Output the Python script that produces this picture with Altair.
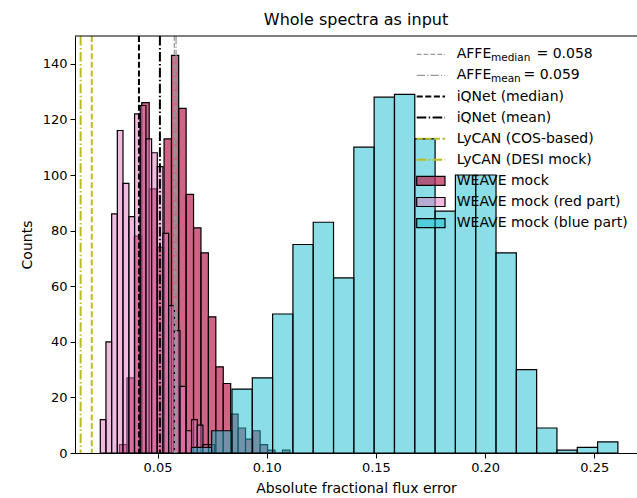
import altair as alt
import pandas as pd

# ---------------- data ----------------
# WEAVE mock (whole spectra) histogram
weave_edges = [0.0326, 0.0360, 0.0394, 0.0428, 0.0462, 0.0496, 0.0530, 0.0564,
               0.0597, 0.0631, 0.0665, 0.0699, 0.0733, 0.0767, 0.0801, 0.0835,
               0.0869, 0.0903, 0.0936, 0.0970, 0.1004, 0.1038, 0.1072, 0.1106]
weave_counts = [3, 27, 78, 126, 95, 74, 113, 143, 124, 93, 81, 72, 49, 31, 25,
                14, 9, 5, 8, 3, 1, 0, 1]

# WEAVE mock (red part) histogram
red_edges = [0.0238, 0.0264, 0.0290, 0.0316, 0.0342, 0.0369, 0.0395, 0.0421,
             0.0447, 0.0473, 0.0499, 0.0525, 0.0551, 0.0577, 0.0603, 0.0630,
             0.0656, 0.0682, 0.0708, 0.0734, 0.0760]
red_counts = [12, 40, 86, 116, 97, 85, 122, 125, 113, 108, 103, 79, 53, 44, 24,
              8, 12, 10, 3, 3]

# WEAVE mock (blue part) histogram
blue_edges = [0.0655, 0.0748, 0.0841, 0.0934, 0.1027, 0.1120, 0.1213, 0.1306,
              0.1399, 0.1492, 0.1585, 0.1678, 0.1771, 0.1864, 0.1957, 0.2050,
              0.2143, 0.2236, 0.2329, 0.2422, 0.2515, 0.2608]
blue_counts = [2, 8, 23, 27, 50, 75, 83, 63, 110, 128, 129, 113, 87, 100, 100,
               72, 30, 9, 1, 2, 4]

# vertical reference lines
line_names = ["AFFE median", "AFFE mean", "iQNet (median)", "iQNet (mean)",
              "LyCAN (COS-based)", "LyCAN (DESI mock)"]
line_values = [0.0577, 0.0585, 0.0415, 0.0511, 0.0199, 0.0148]

x_ticks = [0.05, 0.10, 0.15, 0.20, 0.25]
y_ticks = [0, 20, 40, 60, 80, 100, 120, 140]

# ---------------- styles ----------------
FONT = "DejaVu Sans"
W, H = 562, 417
CRIMSON, CRIMSON_OP = "#bc2251", 0.7
PINK, PINK_OP = "#e377c2", 0.5
CYAN, CYAN_OP = "#17becf", 0.5
OLIVE = "#bcbd22"
GRAY = "#9a9a9a"
DASH_THIN = [4.8, 2.1]
DASHDOT_THIN = [8.3, 2.1, 1.3, 2.1]
DASH = [6, 2.6]
DASHDOT = [9.6, 2.4, 1.5, 2.4]
EDGE_W = 1.2

line_styles = [
    (GRAY, 1.3, DASH_THIN),
    (GRAY, 1.3, DASHDOT_THIN),
    ("black", 2, DASH),
    ("black", 2, DASHDOT),
    (OLIVE, 2, DASH),
    (OLIVE, 2, DASHDOT),
]

xscale = alt.Scale(domain=[0.01222, 0.26955], nice=False, zero=False)
yscale = alt.Scale(domain=[0, 150], nice=False, zero=True)
xaxis = alt.Axis(title="Absolute fractional flux error", values=x_ticks,
                 format=".2f", grid=False)
yaxis = alt.Axis(title="Counts", values=y_ticks, grid=False)


def hist_df(edges, counts):
    return pd.DataFrame({"left": edges[:-1], "right": edges[1:], "count": counts})


def hist_layer(edges, counts, color, op):
    return alt.Chart(hist_df(edges, counts)).mark_rect(
        fill=color, fillOpacity=op, stroke="black", strokeWidth=EDGE_W, clip=True
    ).encode(
        x=alt.X("left:Q", scale=xscale, axis=xaxis),
        x2="right:Q",
        y=alt.Y("count:Q", scale=yscale, axis=yaxis),
        y2=alt.datum(0),
    )


layers = [
    hist_layer(weave_edges, weave_counts, CRIMSON, CRIMSON_OP),
    hist_layer(red_edges, red_counts, PINK, PINK_OP),
    hist_layer(blue_edges, blue_counts, CYAN, CYAN_OP),
]

for name, val, (col, sw, dash) in zip(line_names, line_values, line_styles):
    layers.append(
        alt.Chart(pd.DataFrame({"left": [val], "name": [name]})).mark_rule(
            color=col, strokeWidth=sw, strokeDash=dash, clip=True
        ).encode(x=alt.X("left:Q", scale=xscale, axis=xaxis))
    )

# top spine
one = alt.Data(values=[{"k": 0}])
layers.append(alt.Chart(one).mark_rule(color="black", strokeWidth=1).encode(
    x=alt.value(0), x2=alt.value(W), y=alt.value(0)))

# ---------------- manual legend ----------------
LX0, LX1, TX = 341.7, 370, 381.7
ROW0, ROWSTEP = 18.3, 21.1


def txt(s, x, y, size=14):
    return alt.Chart(one).mark_text(
        text=s, align="left", baseline="middle", font=FONT, fontSize=size,
        color="black"
    ).encode(x=alt.value(x), y=alt.value(y))


for i, (col, sw, dash) in enumerate(line_styles):
    y = ROW0 + ROWSTEP * i
    layers.append(alt.Chart(one).mark_rule(color=col, strokeWidth=sw, strokeDash=dash).encode(
        x=alt.value(LX0), x2=alt.value(LX1), y=alt.value(y)))

# AFFE labels with subscripts
y0 = ROW0
layers += [txt("AFFE", TX, y0), txt("median", 416, y0 + 4, 10.5), txt("= 0.058", 461.5, y0)]
y1 = ROW0 + ROWSTEP
layers += [txt("AFFE", TX, y1), txt("mean", 416, y1 + 4, 10.5), txt("= 0.059", 448.5, y1)]
for i, name in enumerate(line_names[2:], start=2):
    layers.append(txt(name, TX, ROW0 + ROWSTEP * i))

patch_labels = ["WEAVE mock", "WEAVE mock (red part)", "WEAVE mock (blue part)"]
patch_styles = [(CRIMSON, CRIMSON_OP), (PINK, PINK_OP), (CYAN, CYAN_OP)]
for j, (lab, (col, op)) in enumerate(zip(patch_labels, patch_styles)):
    y = ROW0 + ROWSTEP * (6 + j)
    layers.append(alt.Chart(one).mark_rect(
        fill=col, fillOpacity=op, stroke="black", strokeWidth=EDGE_W
    ).encode(x=alt.value(LX0), x2=alt.value(LX1), y=alt.value(y - 4.5), y2=alt.value(y + 4.5)))
    layers.append(txt(lab, TX, y))

chart = alt.layer(*layers).properties(
    width=W, height=H,
    title=alt.TitleParams("Whole spectra as input", font=FONT, fontSize=16,
                          fontWeight="normal", color="black", anchor="middle",
                          frame="group", offset=8),
    autosize=alt.AutoSizeParams(type="none"),
    padding={"left": 75, "top": 36, "right": 0, "bottom": 45},
    background="white",
).configure_view(stroke=None).configure_axis(
    labelFont=FONT, titleFont=FONT, labelFontSize=13, titleFontSize=14,
    labelColor="black", titleColor="black", tickColor="black",
    domainColor="black", titleFontWeight="normal", tickSize=5,
    labelPadding=3, domainWidth=1, tickWidth=1,
).configure_axisY(titlePadding=8).configure_axisX(titlePadding=7)

chart.save("out.html", embed_options={"renderer": "svg", "actions": False})
